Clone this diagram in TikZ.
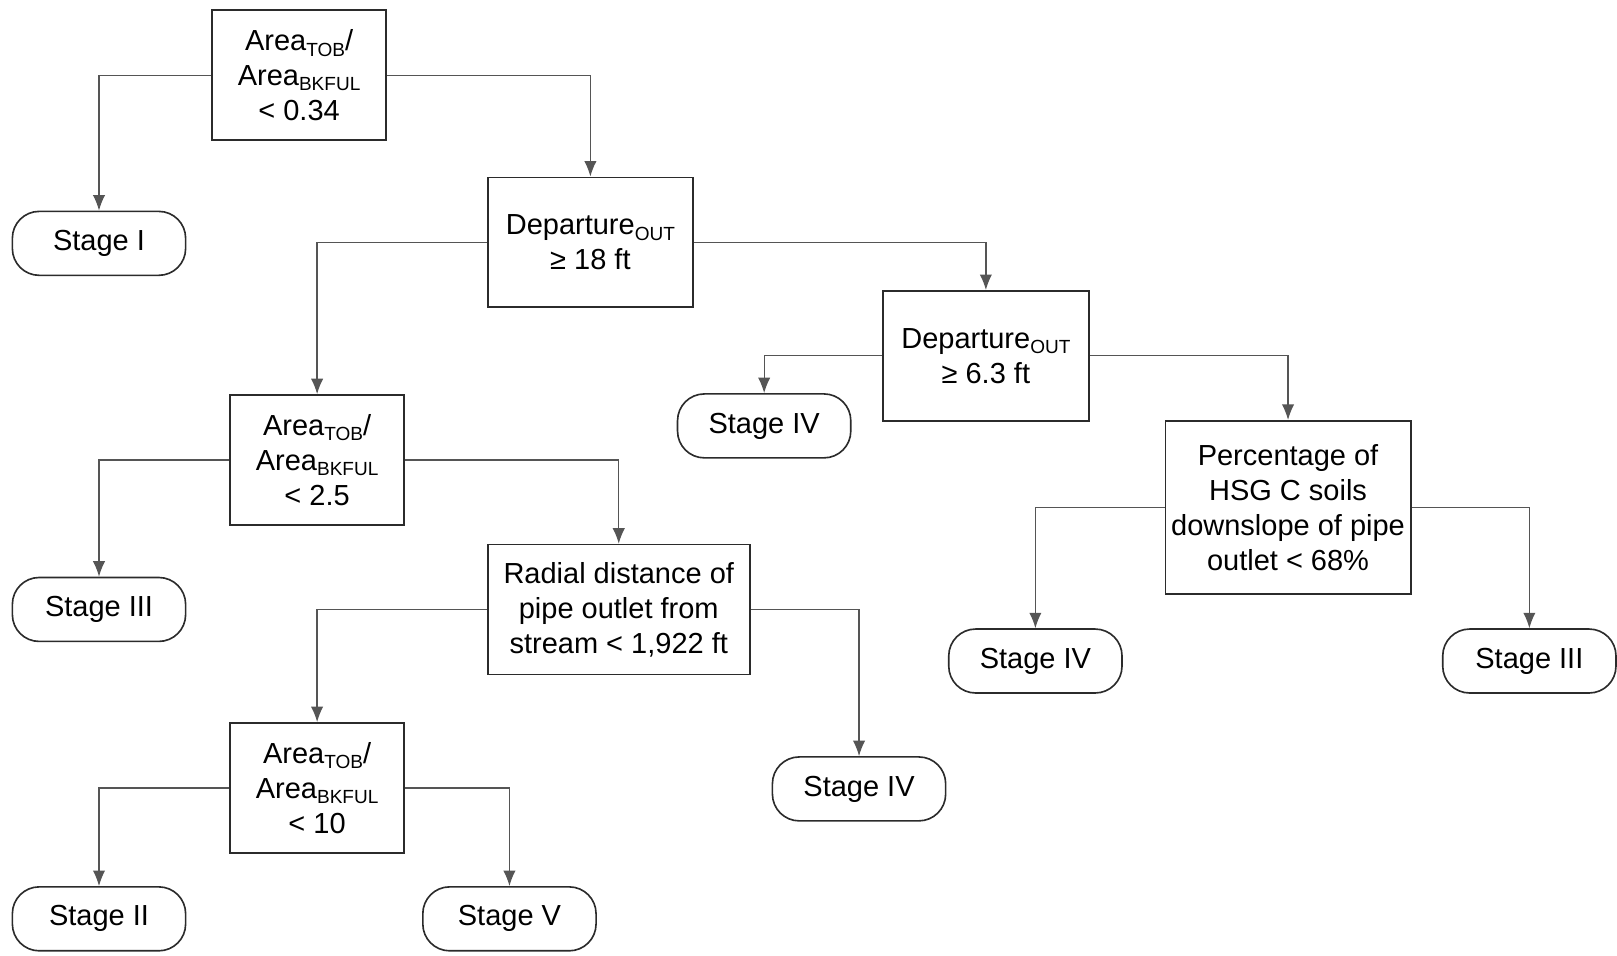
\documentclass[tikz,border=0pt]{standalone}
\usepackage{fontspec}
\setmainfont{Liberation Sans}
\usetikzlibrary{arrows.meta}
\definecolor{DTEdge}{HTML}{2B2B2B}
\definecolor{DTLine}{HTML}{555555}
\newcommand{\lowtxt}[1]{\raisebox{-0.35ex}{\fontsize{10.5}{10.5}\selectfont #1}}

\begin{document}
\begin{tikzpicture}[x=1cm,y=1cm,
  testbox/.style={draw=DTEdge,line width=0.9pt,align=center,inner sep=2pt,
    minimum height=2.52cm,font=\fontsize{16}{19.3}\selectfont},
  stagebox/.style={draw=DTEdge,line width=0.9pt,rounded corners=0.52cm,
    minimum width=3.36cm,minimum height=1.24cm,font=\fontsize{16}{19.3}\selectfont},
  branch/.style={draw=DTLine,line width=0.7pt,-{Latex[length=0.3cm,width=0.24cm]}}]
\path[use as bounding box] (0,0) rectangle (31.36,18.54);
\node[testbox,minimum width=3.38cm] (ratioA) at (5.80,17.08) {Area\lowtxt{TOB}/\\Area\lowtxt{BKFUL}\\< 0.34};
\node[stagebox] (stI) at (1.92,13.82) {Stage I};
\node[testbox,minimum width=3.98cm] (depA) at (11.45,13.84) {Departure\lowtxt{OUT}\\≥ 18 ft};
\node[testbox,minimum width=4.00cm] (depB) at (19.12,11.64) {Departure\lowtxt{OUT}\\≥ 6.3 ft};
\node[stagebox] (stIVa) at (14.82,10.28) {Stage IV};
\node[testbox,minimum width=4.76cm,minimum height=3.36cm] (hsg) at (24.98,8.70) {Percentage of\\HSG C soils\\downslope of pipe\\outlet < 68\%};
\node[stagebox] (stIVb) at (20.08,5.72) {Stage IV};
\node[stagebox] (stIIIb) at (29.66,5.72) {Stage III};
\node[testbox,minimum width=3.38cm] (ratioB) at (6.15,9.62) {Area\lowtxt{TOB}/\\Area\lowtxt{BKFUL}\\< 2.5};
\node[stagebox] (stIIIa) at (1.92,6.72) {Stage III};
\node[testbox,minimum width=5.08cm] (radial) at (12.00,6.72) {Radial distance of\\pipe outlet from\\stream < 1,922 ft};
\node[stagebox] (stIVc) at (16.66,3.24) {Stage IV};
\node[testbox,minimum width=3.38cm] (ratioC) at (6.15,3.26) {Area\lowtxt{TOB}/\\Area\lowtxt{BKFUL}\\< 10};
\node[stagebox] (stII) at (1.92,0.72) {Stage II};
\node[stagebox] (stV) at (9.88,0.72) {Stage V};
\draw[branch] (ratioA.west) -| (stI.north);
\draw[branch] (ratioA.east) -| (depA.north);
\draw[branch] (depA.west) -| (ratioB.north);
\draw[branch] (depA.east) -| (depB.north);
\draw[branch] (depB.west) -| (stIVa.north);
\draw[branch] (depB.east) -| (hsg.north);
\draw[branch] (hsg.west) -| (stIVb.north);
\draw[branch] (hsg.east) -| (stIIIb.north);
\draw[branch] (ratioB.west) -| (stIIIa.north);
\draw[branch] (ratioB.east) -| (radial.north);
\draw[branch] (radial.west) -| (ratioC.north);
\draw[branch] (radial.east) -| (stIVc.north);
\draw[branch] (ratioC.west) -| (stII.north);
\draw[branch] (ratioC.east) -| (stV.north);
\end{tikzpicture}
\end{document}
